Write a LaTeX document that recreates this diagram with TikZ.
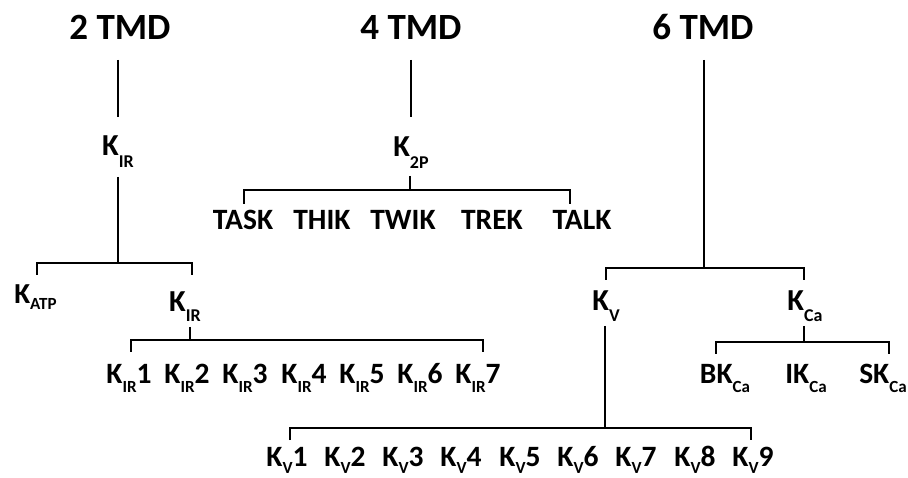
\documentclass[tikz,border=0pt]{standalone}
\usepackage{fontspec}
\setmainfont{Carlito}
\newcommand\lo[3]{\raisebox{-#1pt}{\fontsize{#2pt}{#2pt}\selectfont #3}}
\begin{document}
\begin{tikzpicture}[x=1pt,y=-1pt,
  line width=2.6pt, line join=miter, line cap=butt,
  base/.style={anchor=base, inner sep=0pt},
  ttl/.style={base, font=\bfseries\fontsize{37}{37}\selectfont},
  kbig/.style={base, font=\bfseries\fontsize{30.5}{30.5}\selectfont},
  kmid/.style={base, font=\bfseries\fontsize{29}{29}\selectfont},
  row/.style={base, font=\bfseries\fontsize{29.5}{29.5}\selectfont}]
\useasboundingbox (0,0) rectangle (908,478);

% titles
\node[ttl] (t2) at (120,40) {2 TMD};
\node[ttl] (t4) at (411,40) {4 TMD};
\node[ttl] (t6) at (703,40) {6 TMD};

% second level
\node[kbig] (kir) at (118,156) {K\lo{12}{18}{IR}};
\node[kbig] (k2p) at (411,157) {K\lo{12}{18}{2P}};
\node[kmid] (katp) at (35.5,304) {K\lo{6}{17}{ATP}};
\node[kbig] (kirb) at (185,312) {K\lo{10}{18}{IR}};
\node[kbig] (kv) at (606,311) {K\lo{11}{18}{V}};
\node[kbig] (kca) at (805,311) {K\lo{11}{18}{Ca}};

% K2P members
\node[row] (task) at (243,230) {TASK};
\node[row] (thik) at (322,230) {THIK};
\node[row] (twik) at (403,230) {TWIK};
\node[row] (trek) at (492,230) {TREK};
\node[row] (talk) at (582,230) {TALK};

% KIR members
\foreach \i/\x in {1/129,2/187,3/245,4/304,5/362,6/420,7/478}
  \node[row] (kir\i) at (\x,384) {K\lo{9}{17}{IR}\i};

% KCa members
\node[row] (bk) at (725,384) {BK\lo{9}{17}{Ca}};
\node[row] (ik) at (806,384) {IK\lo{9}{17}{Ca}};
\node[row] (sk) at (883,384) {SK\lo{9}{17}{Ca}};

% Kv members
\foreach \i/\x in {1/287,2/345,3/403,4/461,5/520,6/578,7/636,8/695,9/753}
  \node[row] (kv\i) at (\x,466) {K\lo{7}{17}{V}\i};

% connectors
\draw (kir.base |- 0,60) -- (kir.base |- 0,117);
\draw (k2p.base |- 0,60) -- (k2p.base |- 0,117);
\draw (704,60) -- (704,268);

% KIR (2 TMD) bracket
\draw (kir.base |- 0,177) -- (kir.base |- 0,263);
\draw (37,275) -- (37,263) -- (192,263) -- (192,275);

% K2P bracket
\draw (410,176) -- (410,190);
\draw (244,204) -- (244,190) -- (570,190) -- (570,204);

% 6 TMD bracket
\draw (606,280) -- (606,268) -- (804,268) -- (804,280);

% KIR subfamily bracket
\draw (190,327) -- (190,340);
\draw (131,352) -- (131,340) -- (483,340) -- (483,352);

% Kv bracket
\draw (605,326) -- (605,428);
\draw (290,440) -- (290,428) -- (751,428) -- (751,440);

% KCa bracket
\draw (804,326) -- (804,342);
\draw (716,354) -- (716,342) -- (889,342) -- (889,354);
\end{tikzpicture}
\end{document}
